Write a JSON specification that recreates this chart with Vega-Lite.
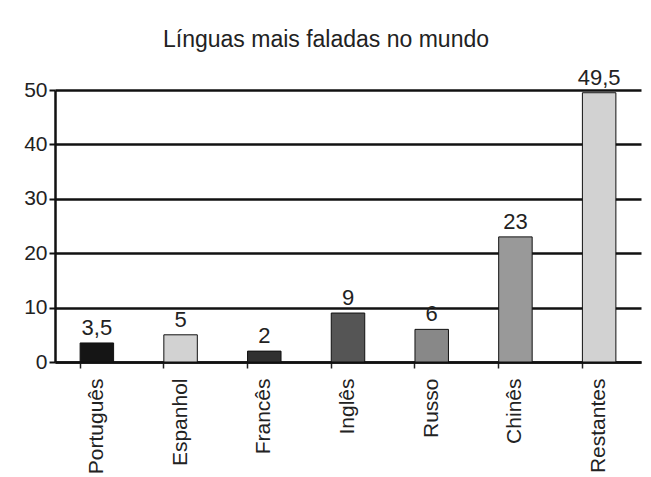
{
  "$schema": "https://vega.github.io/schema/vega-lite/v6.json",
  "width": 586,
  "height": 272,
  "autosize": {"type": "none"},
  "padding": {"left": 55, "top": 90, "right": 10, "bottom": 115},
  "background": "white",
  "title": {
    "text": "Línguas mais faladas no mundo",
    "font": "Liberation Sans",
    "fontSize": 23,
    "fontWeight": "normal",
    "color": "#222",
    "anchor": "middle",
    "dx": -22,
    "offset": 15
  },
  "config": {
    "view": {"stroke": null},
    "locale": {"number": {"decimal": ",", "thousands": ".", "grouping": [3], "currency": ["", ""]}},
    "font": "Liberation Sans"
  },
  "data": {
    "values": [
      {"lingua": "Português", "valor": 3.5},
      {"lingua": "Espanhol", "valor": 5},
      {"lingua": "Francês", "valor": 2},
      {"lingua": "Inglês", "valor": 9},
      {"lingua": "Russo", "valor": 6},
      {"lingua": "Chinês", "valor": 23},
      {"lingua": "Restantes", "valor": 49.5}
    ]
  },
  "encoding": {
    "x": {
      "field": "lingua",
      "type": "nominal",
      "sort": null,
      "scale": {"paddingInner": 0.6, "paddingOuter": 0.3},
      "axis": {
        "title": null,
        "labelAngle": -90,
        "labelFontSize": 21,
        "labelColor": "#222",
        "labelPadding": 10,
        "bandPosition": 0,
        "tickColor": "#222",
        "tickSize": 6,
        "tickWidth": 1.5,
        "domainColor": "#111",
        "domainWidth": 2.5
      }
    },
    "y": {
      "field": "valor",
      "type": "quantitative",
      "scale": {"domain": [0, 50], "nice": false},
      "axis": {
        "title": null,
        "values": [0, 10, 20, 30, 40, 50],
        "labelFontSize": 21,
        "labelColor": "#222",
        "labelPadding": 2,
        "tickColor": "#111",
        "tickSize": 6,
        "tickWidth": 2,
        "domainColor": "#111",
        "domainWidth": 2.5,
        "grid": true,
        "gridColor": "#111",
        "gridWidth": 2.5,
        "format": "d"
      }
    }
  },
  "layer": [
    {
      "mark": {"type": "bar", "stroke": "#111", "strokeWidth": 1},
      "encoding": {
        "color": {
          "field": "lingua",
          "type": "nominal",
          "legend": null,
          "scale": {
            "domain": ["Português", "Espanhol", "Francês", "Inglês", "Russo", "Chinês", "Restantes"],
            "range": ["#151515", "#d2d2d2", "#303030", "#555555", "#888888", "#999999", "#d2d2d2"]
          }
        }
      }
    },
    {
      "mark": {"type": "text", "fontSize": 22, "color": "#222", "baseline": "alphabetic", "dy": -8},
      "encoding": {
        "text": {"field": "valor", "type": "quantitative", "format": ".1~f"}
      }
    }
  ]
}
